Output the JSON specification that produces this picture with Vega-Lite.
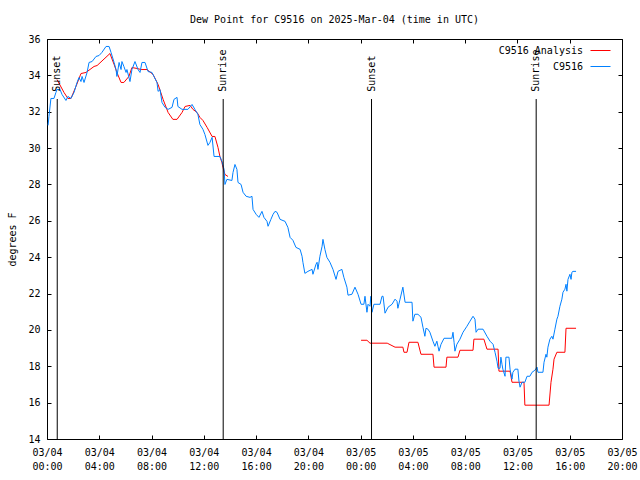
{
"$schema":"https://vega.github.io/schema/vega-lite/v6.json",
"width":575,"height":400,
"autosize":{"type":"none"},
"padding":{"left":47,"top":39,"right":18,"bottom":41},
"background":"white",
"title":{"text":"Dew Point for C9516 on 2025-Mar-04 (time in UTC)","fontSize":10,"fontWeight":"normal","font":"DejaVu Sans Mono","offset":9,"color":"black"},
"config":{"font":"DejaVu Sans Mono","view":{"stroke":"black","strokeWidth":1},
 "axis":{"labelFont":"DejaVu Sans Mono","labelFontSize":10,"labelColor":"black","tickColor":"black","tickSize":-4,"grid":false,"domain":false,"titleFont":"DejaVu Sans Mono","titleFontSize":10,"titleFontWeight":"normal","titleColor":"black"},
 "legend":{"labelFont":"DejaVu Sans Mono","labelFontSize":10,"labelColor":"black"}},
"datasets":{
"obs":[
{"series":"C9516","seg":"b","t":"2025-03-04T00:05","v":31.25},
{"series":"C9516","seg":"b","t":"2025-03-04T00:09","v":31.74},
{"series":"C9516","seg":"b","t":"2025-03-04T00:18","v":32.73},
{"series":"C9516","seg":"b","t":"2025-03-04T00:32","v":32.73},
{"series":"C9516","seg":"b","t":"2025-03-04T00:41","v":33.06},
{"series":"C9516","seg":"b","t":"2025-03-04T00:46","v":33.22},
{"series":"C9516","seg":"b","t":"2025-03-04T01:00","v":33.22},
{"series":"C9516","seg":"b","t":"2025-03-04T01:09","v":32.95},
{"series":"C9516","seg":"b","t":"2025-03-04T01:27","v":32.62},
{"series":"C9516","seg":"b","t":"2025-03-04T01:36","v":32.84},
{"series":"C9516","seg":"b","t":"2025-03-04T01:50","v":32.73},
{"series":"C9516","seg":"b","t":"2025-03-04T02:04","v":33.06},
{"series":"C9516","seg":"b","t":"2025-03-04T02:18","v":33.61},
{"series":"C9516","seg":"b","t":"2025-03-04T02:27","v":33.88},
{"series":"C9516","seg":"b","t":"2025-03-04T02:36","v":33.66},
{"series":"C9516","seg":"b","t":"2025-03-04T02:41","v":33.94},
{"series":"C9516","seg":"b","t":"2025-03-04T02:50","v":33.61},
{"series":"C9516","seg":"b","t":"2025-03-04T03:04","v":34.16},
{"series":"C9516","seg":"b","t":"2025-03-04T03:13","v":34.71},
{"series":"C9516","seg":"b","t":"2025-03-04T03:27","v":34.76},
{"series":"C9516","seg":"b","t":"2025-03-04T03:45","v":35.04},
{"series":"C9516","seg":"b","t":"2025-03-04T03:59","v":35.09},
{"series":"C9516","seg":"b","t":"2025-03-04T04:12","v":35.26},
{"series":"C9516","seg":"b","t":"2025-03-04T04:31","v":35.59},
{"series":"C9516","seg":"b","t":"2025-03-04T04:45","v":35.59},
{"series":"C9516","seg":"b","t":"2025-03-04T04:54","v":35.26},
{"series":"C9516","seg":"b","t":"2025-03-04T05:08","v":34.71},
{"series":"C9516","seg":"b","t":"2025-03-04T05:17","v":34.32},
{"series":"C9516","seg":"b","t":"2025-03-04T05:21","v":33.94},
{"series":"C9516","seg":"b","t":"2025-03-04T05:31","v":34.71},
{"series":"C9516","seg":"b","t":"2025-03-04T05:40","v":34.32},
{"series":"C9516","seg":"b","t":"2025-03-04T05:44","v":34.76},
{"series":"C9516","seg":"b","t":"2025-03-04T05:53","v":34.49},
{"series":"C9516","seg":"b","t":"2025-03-04T06:03","v":34.16},
{"series":"C9516","seg":"b","t":"2025-03-04T06:07","v":34.32},
{"series":"C9516","seg":"b","t":"2025-03-04T06:21","v":33.66},
{"series":"C9516","seg":"b","t":"2025-03-04T06:30","v":34.32},
{"series":"C9516","seg":"b","t":"2025-03-04T06:44","v":34.76},
{"series":"C9516","seg":"b","t":"2025-03-04T06:58","v":34.32},
{"series":"C9516","seg":"b","t":"2025-03-04T07:07","v":34.16},
{"series":"C9516","seg":"b","t":"2025-03-04T07:16","v":34.71},
{"series":"C9516","seg":"b","t":"2025-03-04T07:30","v":34.71},
{"series":"C9516","seg":"b","t":"2025-03-04T07:44","v":34.21},
{"series":"C9516","seg":"b","t":"2025-03-04T08:02","v":34.16},
{"series":"C9516","seg":"b","t":"2025-03-04T08:11","v":33.94},
{"series":"C9516","seg":"b","t":"2025-03-04T08:25","v":33.61},
{"series":"C9516","seg":"b","t":"2025-03-04T08:30","v":33.12},
{"series":"C9516","seg":"b","t":"2025-03-04T08:39","v":33.22},
{"series":"C9516","seg":"b","t":"2025-03-04T08:48","v":32.51},
{"series":"C9516","seg":"b","t":"2025-03-04T09:02","v":32.24},
{"series":"C9516","seg":"b","t":"2025-03-04T09:16","v":32.13},
{"series":"C9516","seg":"b","t":"2025-03-04T09:34","v":32.24},
{"series":"C9516","seg":"b","t":"2025-03-04T09:43","v":32.68},
{"series":"C9516","seg":"b","t":"2025-03-04T09:57","v":32.79},
{"series":"C9516","seg":"b","t":"2025-03-04T10:01","v":32.29},
{"series":"C9516","seg":"b","t":"2025-03-04T10:20","v":32.13},
{"series":"C9516","seg":"b","t":"2025-03-04T10:47","v":32.13},
{"series":"C9516","seg":"b","t":"2025-03-04T11:06","v":32.40},
{"series":"C9516","seg":"b","t":"2025-03-04T11:19","v":32.13},
{"series":"C9516","seg":"b","t":"2025-03-04T11:33","v":31.85},
{"series":"C9516","seg":"b","t":"2025-03-04T11:42","v":31.30},
{"series":"C9516","seg":"b","t":"2025-03-04T11:56","v":31.03},
{"series":"C9516","seg":"b","t":"2025-03-04T12:05","v":30.75},
{"series":"C9516","seg":"b","t":"2025-03-04T12:19","v":30.15},
{"series":"C9516","seg":"b","t":"2025-03-04T12:28","v":30.31},
{"series":"C9516","seg":"b","t":"2025-03-04T12:38","v":30.59},
{"series":"C9516","seg":"b","t":"2025-03-04T12:47","v":29.54},
{"series":"C9516","seg":"b","t":"2025-03-04T13:14","v":29.54},
{"series":"C9516","seg":"b","t":"2025-03-04T13:23","v":29.27},
{"series":"C9516","seg":"b","t":"2025-03-04T13:33","v":28.83},
{"series":"C9516","seg":"b","t":"2025-03-04T13:37","v":28.00},
{"series":"C9516","seg":"b","t":"2025-03-04T13:46","v":28.28},
{"series":"C9516","seg":"b","t":"2025-03-04T14:09","v":28.22},
{"series":"C9516","seg":"b","t":"2025-03-04T14:14","v":28.66},
{"series":"C9516","seg":"b","t":"2025-03-04T14:23","v":29.10},
{"series":"C9516","seg":"b","t":"2025-03-04T14:32","v":28.83},
{"series":"C9516","seg":"b","t":"2025-03-04T14:37","v":28.11},
{"series":"C9516","seg":"b","t":"2025-03-04T14:51","v":28.00},
{"series":"C9516","seg":"b","t":"2025-03-04T15:00","v":27.57},
{"series":"C9516","seg":"b","t":"2025-03-04T15:14","v":27.35},
{"series":"C9516","seg":"b","t":"2025-03-04T15:32","v":27.29},
{"series":"C9516","seg":"b","t":"2025-03-04T15:41","v":27.35},
{"series":"C9516","seg":"b","t":"2025-03-04T15:46","v":26.63},
{"series":"C9516","seg":"b","t":"2025-03-04T16:00","v":26.36},
{"series":"C9516","seg":"b","t":"2025-03-04T16:13","v":26.19},
{"series":"C9516","seg":"b","t":"2025-03-04T16:27","v":26.52},
{"series":"C9516","seg":"b","t":"2025-03-04T16:36","v":26.19},
{"series":"C9516","seg":"b","t":"2025-03-04T16:50","v":25.97},
{"series":"C9516","seg":"b","t":"2025-03-04T16:55","v":25.70},
{"series":"C9516","seg":"b","t":"2025-03-04T17:08","v":26.08},
{"series":"C9516","seg":"b","t":"2025-03-04T17:18","v":26.36},
{"series":"C9516","seg":"b","t":"2025-03-04T17:27","v":26.52},
{"series":"C9516","seg":"b","t":"2025-03-04T17:36","v":26.47},
{"series":"C9516","seg":"b","t":"2025-03-04T17:50","v":26.08},
{"series":"C9516","seg":"b","t":"2025-03-04T18:13","v":25.97},
{"series":"C9516","seg":"b","t":"2025-03-04T18:26","v":25.64},
{"series":"C9516","seg":"b","t":"2025-03-04T18:36","v":25.09},
{"series":"C9516","seg":"b","t":"2025-03-04T18:49","v":24.93},
{"series":"C9516","seg":"b","t":"2025-03-04T19:03","v":24.54},
{"series":"C9516","seg":"b","t":"2025-03-04T19:22","v":24.43},
{"series":"C9516","seg":"b","t":"2025-03-04T19:31","v":24.05},
{"series":"C9516","seg":"b","t":"2025-03-04T19:35","v":23.72},
{"series":"C9516","seg":"b","t":"2025-03-04T19:44","v":23.11},
{"series":"C9516","seg":"b","t":"2025-03-04T19:58","v":23.22},
{"series":"C9516","seg":"b","t":"2025-03-04T20:17","v":23.33},
{"series":"C9516","seg":"b","t":"2025-03-04T20:21","v":23.06},
{"series":"C9516","seg":"b","t":"2025-03-04T20:35","v":23.61},
{"series":"C9516","seg":"b","t":"2025-03-04T20:40","v":23.72},
{"series":"C9516","seg":"b","t":"2025-03-04T20:44","v":23.33},
{"series":"C9516","seg":"b","t":"2025-03-04T20:53","v":24.05},
{"series":"C9516","seg":"b","t":"2025-03-04T21:03","v":24.60},
{"series":"C9516","seg":"b","t":"2025-03-04T21:07","v":24.98},
{"series":"C9516","seg":"b","t":"2025-03-04T21:16","v":24.43},
{"series":"C9516","seg":"b","t":"2025-03-04T21:25","v":23.99},
{"series":"C9516","seg":"b","t":"2025-03-04T21:39","v":23.72},
{"series":"C9516","seg":"b","t":"2025-03-04T21:53","v":23.33},
{"series":"C9516","seg":"b","t":"2025-03-04T22:07","v":22.78},
{"series":"C9516","seg":"b","t":"2025-03-04T22:16","v":23.22},
{"series":"C9516","seg":"b","t":"2025-03-04T22:34","v":23.33},
{"series":"C9516","seg":"b","t":"2025-03-04T22:43","v":22.89},
{"series":"C9516","seg":"b","t":"2025-03-04T22:57","v":22.35},
{"series":"C9516","seg":"b","t":"2025-03-04T23:02","v":21.91},
{"series":"C9516","seg":"b","t":"2025-03-04T23:20","v":21.96},
{"series":"C9516","seg":"b","t":"2025-03-04T23:34","v":22.35},
{"series":"C9516","seg":"b","t":"2025-03-04T23:48","v":21.96},
{"series":"C9516","seg":"b","t":"2025-03-05T00:02","v":21.41},
{"series":"C9516","seg":"b","t":"2025-03-05T00:15","v":21.41},
{"series":"C9516","seg":"b","t":"2025-03-05T00:20","v":21.85},
{"series":"C9516","seg":"b","t":"2025-03-05T00:29","v":20.97},
{"series":"C9516","seg":"b","t":"2025-03-05T00:34","v":21.41},
{"series":"C9516","seg":"b","t":"2025-03-05T00:43","v":21.30},
{"series":"C9516","seg":"b","t":"2025-03-05T00:47","v":21.85},
{"series":"C9516","seg":"b","t":"2025-03-05T00:52","v":20.97},
{"series":"C9516","seg":"b","t":"2025-03-05T01:01","v":21.41},
{"series":"C9516","seg":"b","t":"2025-03-05T01:29","v":21.41},
{"series":"C9516","seg":"b","t":"2025-03-05T01:38","v":21.85},
{"series":"C9516","seg":"b","t":"2025-03-05T01:43","v":21.85},
{"series":"C9516","seg":"b","t":"2025-03-05T01:52","v":20.92},
{"series":"C9516","seg":"b","t":"2025-03-05T02:06","v":21.25},
{"series":"C9516","seg":"b","t":"2025-03-05T02:24","v":21.41},
{"series":"C9516","seg":"b","t":"2025-03-05T02:38","v":21.69},
{"series":"C9516","seg":"b","t":"2025-03-05T02:47","v":21.58},
{"series":"C9516","seg":"b","t":"2025-03-05T02:51","v":21.19},
{"series":"C9516","seg":"b","t":"2025-03-05T03:01","v":21.69},
{"series":"C9516","seg":"b","t":"2025-03-05T03:14","v":22.35},
{"series":"C9516","seg":"b","t":"2025-03-05T03:24","v":21.52},
{"series":"C9516","seg":"b","t":"2025-03-05T03:56","v":21.52},
{"series":"C9516","seg":"b","t":"2025-03-05T04:00","v":20.48},
{"series":"C9516","seg":"b","t":"2025-03-05T04:09","v":20.86},
{"series":"C9516","seg":"b","t":"2025-03-05T04:23","v":20.86},
{"series":"C9516","seg":"b","t":"2025-03-05T04:37","v":20.70},
{"series":"C9516","seg":"b","t":"2025-03-05T04:46","v":20.15},
{"series":"C9516","seg":"b","t":"2025-03-05T04:55","v":19.65},
{"series":"C9516","seg":"b","t":"2025-03-05T05:00","v":20.09},
{"series":"C9516","seg":"b","t":"2025-03-05T05:09","v":20.04},
{"series":"C9516","seg":"b","t":"2025-03-05T05:18","v":19.87},
{"series":"C9516","seg":"b","t":"2025-03-05T05:32","v":19.38},
{"series":"C9516","seg":"b","t":"2025-03-05T05:41","v":19.10},
{"series":"C9516","seg":"b","t":"2025-03-05T05:50","v":19.38},
{"series":"C9516","seg":"b","t":"2025-03-05T05:55","v":19.10},
{"series":"C9516","seg":"b","t":"2025-03-05T06:00","v":18.83},
{"series":"C9516","seg":"b","t":"2025-03-05T06:09","v":19.21},
{"series":"C9516","seg":"b","t":"2025-03-05T06:23","v":19.54},
{"series":"C9516","seg":"b","t":"2025-03-05T06:59","v":19.54},
{"series":"C9516","seg":"b","t":"2025-03-05T07:04","v":19.87},
{"series":"C9516","seg":"b","t":"2025-03-05T07:09","v":19.32},
{"series":"C9516","seg":"b","t":"2025-03-05T07:13","v":18.83},
{"series":"C9516","seg":"b","t":"2025-03-05T07:22","v":19.21},
{"series":"C9516","seg":"b","t":"2025-03-05T07:36","v":19.49},
{"series":"C9516","seg":"b","t":"2025-03-05T07:50","v":19.87},
{"series":"C9516","seg":"b","t":"2025-03-05T08:08","v":20.20},
{"series":"C9516","seg":"b","t":"2025-03-05T08:22","v":20.48},
{"series":"C9516","seg":"b","t":"2025-03-05T08:36","v":20.75},
{"series":"C9516","seg":"b","t":"2025-03-05T08:45","v":20.59},
{"series":"C9516","seg":"b","t":"2025-03-05T08:50","v":19.87},
{"series":"C9516","seg":"b","t":"2025-03-05T08:59","v":20.04},
{"series":"C9516","seg":"b","t":"2025-03-05T09:22","v":20.04},
{"series":"C9516","seg":"b","t":"2025-03-05T09:40","v":19.65},
{"series":"C9516","seg":"b","t":"2025-03-05T09:54","v":19.38},
{"series":"C9516","seg":"b","t":"2025-03-05T10:08","v":19.21},
{"series":"C9516","seg":"b","t":"2025-03-05T10:17","v":18.77},
{"series":"C9516","seg":"b","t":"2025-03-05T10:26","v":18.28},
{"series":"C9516","seg":"b","t":"2025-03-05T10:31","v":17.89},
{"series":"C9516","seg":"b","t":"2025-03-05T10:40","v":17.89},
{"series":"C9516","seg":"b","t":"2025-03-05T10:44","v":18.50},
{"series":"C9516","seg":"b","t":"2025-03-05T10:49","v":18.11},
{"series":"C9516","seg":"b","t":"2025-03-05T10:53","v":17.84},
{"series":"C9516","seg":"b","t":"2025-03-05T11:03","v":17.45},
{"series":"C9516","seg":"b","t":"2025-03-05T11:07","v":18.50},
{"series":"C9516","seg":"b","t":"2025-03-05T11:21","v":18.50},
{"series":"C9516","seg":"b","t":"2025-03-05T11:26","v":17.84},
{"series":"C9516","seg":"b","t":"2025-03-05T11:35","v":17.29},
{"series":"C9516","seg":"b","t":"2025-03-05T11:39","v":17.67},
{"series":"C9516","seg":"b","t":"2025-03-05T11:49","v":17.84},
{"series":"C9516","seg":"b","t":"2025-03-05T12:02","v":17.84},
{"series":"C9516","seg":"b","t":"2025-03-05T12:07","v":17.18},
{"series":"C9516","seg":"b","t":"2025-03-05T12:12","v":16.85},
{"series":"C9516","seg":"b","t":"2025-03-05T12:21","v":17.12},
{"series":"C9516","seg":"b","t":"2025-03-05T12:34","v":17.12},
{"series":"C9516","seg":"b","t":"2025-03-05T12:44","v":17.45},
{"series":"C9516","seg":"b","t":"2025-03-05T12:57","v":17.45},
{"series":"C9516","seg":"b","t":"2025-03-05T13:07","v":17.67},
{"series":"C9516","seg":"b","t":"2025-03-05T13:20","v":17.78},
{"series":"C9516","seg":"b","t":"2025-03-05T13:30","v":17.95},
{"series":"C9516","seg":"b","t":"2025-03-05T13:34","v":17.67},
{"series":"C9516","seg":"b","t":"2025-03-05T13:57","v":17.67},
{"series":"C9516","seg":"b","t":"2025-03-05T14:02","v":18.22},
{"series":"C9516","seg":"b","t":"2025-03-05T14:11","v":18.66},
{"series":"C9516","seg":"b","t":"2025-03-05T14:15","v":18.50},
{"series":"C9516","seg":"b","t":"2025-03-05T14:20","v":19.05},
{"series":"C9516","seg":"b","t":"2025-03-05T14:29","v":19.49},
{"series":"C9516","seg":"b","t":"2025-03-05T14:38","v":19.65},
{"series":"C9516","seg":"b","t":"2025-03-05T14:43","v":19.49},
{"series":"C9516","seg":"b","t":"2025-03-05T14:52","v":20.04},
{"series":"C9516","seg":"b","t":"2025-03-05T15:01","v":20.59},
{"series":"C9516","seg":"b","t":"2025-03-05T15:06","v":20.75},
{"series":"C9516","seg":"b","t":"2025-03-05T15:15","v":21.30},
{"series":"C9516","seg":"b","t":"2025-03-05T15:24","v":21.69},
{"series":"C9516","seg":"b","t":"2025-03-05T15:29","v":22.07},
{"series":"C9516","seg":"b","t":"2025-03-05T15:38","v":22.24},
{"series":"C9516","seg":"b","t":"2025-03-05T15:43","v":22.51},
{"series":"C9516","seg":"b","t":"2025-03-05T15:47","v":22.13},
{"series":"C9516","seg":"b","t":"2025-03-05T15:52","v":22.78},
{"series":"C9516","seg":"b","t":"2025-03-05T16:01","v":23.06},
{"series":"C9516","seg":"b","t":"2025-03-05T16:06","v":22.78},
{"series":"C9516","seg":"b","t":"2025-03-05T16:10","v":23.17},
{"series":"C9516","seg":"b","t":"2025-03-05T16:15","v":23.22},
{"series":"C9516","seg":"b","t":"2025-03-05T16:29","v":23.22},
{"series":"C9516 Analysis","seg":"r1","t":"2025-03-04T00:46","v":33.77},
{"series":"C9516 Analysis","seg":"r1","t":"2025-03-04T01:18","v":33.06},
{"series":"C9516 Analysis","seg":"r1","t":"2025-03-04T01:36","v":32.73},
{"series":"C9516 Analysis","seg":"r1","t":"2025-03-04T01:50","v":32.73},
{"series":"C9516 Analysis","seg":"r1","t":"2025-03-04T02:13","v":33.39},
{"series":"C9516 Analysis","seg":"r1","t":"2025-03-04T02:36","v":34.10},
{"series":"C9516 Analysis","seg":"r1","t":"2025-03-04T02:59","v":34.16},
{"series":"C9516 Analysis","seg":"r1","t":"2025-03-04T03:36","v":34.49},
{"series":"C9516 Analysis","seg":"r1","t":"2025-03-04T03:50","v":34.54},
{"series":"C9516 Analysis","seg":"r1","t":"2025-03-04T04:49","v":35.20},
{"series":"C9516 Analysis","seg":"r1","t":"2025-03-04T05:08","v":34.60},
{"series":"C9516 Analysis","seg":"r1","t":"2025-03-04T05:21","v":34.16},
{"series":"C9516 Analysis","seg":"r1","t":"2025-03-04T05:40","v":33.61},
{"series":"C9516 Analysis","seg":"r1","t":"2025-03-04T05:53","v":33.61},
{"series":"C9516 Analysis","seg":"r1","t":"2025-03-04T06:16","v":33.94},
{"series":"C9516 Analysis","seg":"r1","t":"2025-03-04T06:30","v":34.43},
{"series":"C9516 Analysis","seg":"r1","t":"2025-03-04T06:53","v":34.38},
{"series":"C9516 Analysis","seg":"r1","t":"2025-03-04T07:12","v":34.32},
{"series":"C9516 Analysis","seg":"r1","t":"2025-03-04T07:39","v":34.32},
{"series":"C9516 Analysis","seg":"r1","t":"2025-03-04T08:07","v":34.05},
{"series":"C9516 Analysis","seg":"r1","t":"2025-03-04T08:30","v":33.50},
{"series":"C9516 Analysis","seg":"r1","t":"2025-03-04T08:53","v":32.68},
{"series":"C9516 Analysis","seg":"r1","t":"2025-03-04T09:16","v":31.96},
{"series":"C9516 Analysis","seg":"r1","t":"2025-03-04T09:38","v":31.58},
{"series":"C9516 Analysis","seg":"r1","t":"2025-03-04T09:57","v":31.58},
{"series":"C9516 Analysis","seg":"r1","t":"2025-03-04T10:20","v":31.96},
{"series":"C9516 Analysis","seg":"r1","t":"2025-03-04T10:34","v":32.29},
{"series":"C9516 Analysis","seg":"r1","t":"2025-03-04T10:57","v":32.35},
{"series":"C9516 Analysis","seg":"r1","t":"2025-03-04T11:10","v":32.13},
{"series":"C9516 Analysis","seg":"r1","t":"2025-03-04T11:29","v":31.96},
{"series":"C9516 Analysis","seg":"r1","t":"2025-03-04T11:42","v":31.69},
{"series":"C9516 Analysis","seg":"r1","t":"2025-03-04T11:56","v":31.52},
{"series":"C9516 Analysis","seg":"r1","t":"2025-03-04T12:15","v":31.14},
{"series":"C9516 Analysis","seg":"r1","t":"2025-03-04T12:38","v":30.64},
{"series":"C9516 Analysis","seg":"r1","t":"2025-03-04T12:51","v":30.64},
{"series":"C9516 Analysis","seg":"r1","t":"2025-03-04T13:05","v":30.04},
{"series":"C9516 Analysis","seg":"r1","t":"2025-03-04T13:14","v":29.54},
{"series":"C9516 Analysis","seg":"r1","t":"2025-03-04T13:23","v":29.21},
{"series":"C9516 Analysis","seg":"r1","t":"2025-03-04T13:28","v":28.94},
{"series":"C9516 Analysis","seg":"r1","t":"2025-03-04T13:37","v":28.55},
{"series":"C9516 Analysis","seg":"r1","t":"2025-03-04T13:51","v":28.44},
{"series":"C9516 Analysis","seg":"r2","t":"2025-03-05T00:02","v":19.43},
{"series":"C9516 Analysis","seg":"r2","t":"2025-03-05T00:29","v":19.43},
{"series":"C9516 Analysis","seg":"r2","t":"2025-03-05T00:43","v":19.27},
{"series":"C9516 Analysis","seg":"r2","t":"2025-03-05T02:02","v":19.27},
{"series":"C9516 Analysis","seg":"r2","t":"2025-03-05T02:38","v":19.05},
{"series":"C9516 Analysis","seg":"r2","t":"2025-03-05T03:14","v":19.05},
{"series":"C9516 Analysis","seg":"r2","t":"2025-03-05T03:19","v":18.77},
{"series":"C9516 Analysis","seg":"r2","t":"2025-03-05T03:33","v":18.77},
{"series":"C9516 Analysis","seg":"r2","t":"2025-03-05T03:42","v":19.32},
{"series":"C9516 Analysis","seg":"r2","t":"2025-03-05T04:23","v":19.32},
{"series":"C9516 Analysis","seg":"r2","t":"2025-03-05T04:37","v":18.66},
{"series":"C9516 Analysis","seg":"r2","t":"2025-03-05T05:32","v":18.66},
{"series":"C9516 Analysis","seg":"r2","t":"2025-03-05T05:37","v":17.95},
{"series":"C9516 Analysis","seg":"r2","t":"2025-03-05T06:32","v":17.95},
{"series":"C9516 Analysis","seg":"r2","t":"2025-03-05T06:36","v":18.50},
{"series":"C9516 Analysis","seg":"r2","t":"2025-03-05T07:27","v":18.50},
{"series":"C9516 Analysis","seg":"r2","t":"2025-03-05T07:36","v":18.88},
{"series":"C9516 Analysis","seg":"r2","t":"2025-03-05T08:36","v":18.88},
{"series":"C9516 Analysis","seg":"r2","t":"2025-03-05T08:40","v":19.49},
{"series":"C9516 Analysis","seg":"r2","t":"2025-03-05T09:26","v":19.49},
{"series":"C9516 Analysis","seg":"r2","t":"2025-03-05T09:40","v":18.94},
{"series":"C9516 Analysis","seg":"r2","t":"2025-03-05T10:31","v":18.94},
{"series":"C9516 Analysis","seg":"r2","t":"2025-03-05T10:35","v":17.73},
{"series":"C9516 Analysis","seg":"r2","t":"2025-03-05T11:26","v":17.73},
{"series":"C9516 Analysis","seg":"r2","t":"2025-03-05T11:35","v":17.12},
{"series":"C9516 Analysis","seg":"r2","t":"2025-03-05T12:30","v":17.12},
{"series":"C9516 Analysis","seg":"r2","t":"2025-03-05T12:34","v":15.86},
{"series":"C9516 Analysis","seg":"r2","t":"2025-03-05T14:25","v":15.86},
{"series":"C9516 Analysis","seg":"r2","t":"2025-03-05T14:34","v":17.12},
{"series":"C9516 Analysis","seg":"r2","t":"2025-03-05T14:43","v":17.84},
{"series":"C9516 Analysis","seg":"r2","t":"2025-03-05T14:48","v":18.39},
{"series":"C9516 Analysis","seg":"r2","t":"2025-03-05T15:01","v":18.77},
{"series":"C9516 Analysis","seg":"r2","t":"2025-03-05T15:38","v":18.77},
{"series":"C9516 Analysis","seg":"r2","t":"2025-03-05T15:43","v":20.09},
{"series":"C9516 Analysis","seg":"r2","t":"2025-03-05T16:29","v":20.09}
],
"events":[
{"t":"2025-03-04T00:47","label":"Sunset"},
{"t":"2025-03-04T13:29","label":"Sunrise"},
{"t":"2025-03-05T00:50","label":"Sunset"},
{"t":"2025-03-05T13:26","label":"Sunrise"}
]},
"layer":[
{"data":{"name":"obs"},"transform":[{"filter":"datum.series === 'C9516 Analysis'"}],
 "mark":{"type":"line","strokeWidth":1},
 "encoding":{
  "x":{"field":"t","type":"temporal","scale":{"domain":[{"year":2025,"month":3,"date":4,"hours":0},{"year":2025,"month":3,"date":5,"hours":20}]},
   "axis":{"orient":"bottom","title":null,"values":[{"year":2025,"month":3,"date":4,"hours":0},{"year":2025,"month":3,"date":4,"hours":4},{"year":2025,"month":3,"date":4,"hours":8},{"year":2025,"month":3,"date":4,"hours":12},{"year":2025,"month":3,"date":4,"hours":16},{"year":2025,"month":3,"date":4,"hours":20},{"year":2025,"month":3,"date":5,"hours":0},{"year":2025,"month":3,"date":5,"hours":4},{"year":2025,"month":3,"date":5,"hours":8},{"year":2025,"month":3,"date":5,"hours":12},{"year":2025,"month":3,"date":5,"hours":16},{"year":2025,"month":3,"date":5,"hours":20}],
    "labelExpr":"[timeFormat(datum.value,'%m/%d'), timeFormat(datum.value,'%H:%M')]","labelPadding":12,"labelFlush":false,"labelOverlap":false,"labelBound":false,"labelLineHeight":14,"labelBaseline":"top"}},
  "y":{"field":"v","type":"quantitative","scale":{"domain":[14,36],"nice":false,"zero":false},
   "axis":{"orient":"left","title":"degrees F","values":[14,16,18,20,22,24,26,28,30,32,34,36],"labelPadding":11,"titlePadding":10,"labelOverlap":false,"labelFlush":false}},
  "color":{"field":"series","type":"nominal","scale":{"domain":["C9516 Analysis","C9516"],"range":["#ff0000","#0080ff"]},
   "legend":{"orient":"none","legendX":543,"legendY":1,"title":null,"symbolType":"stroke","symbolSize":400,"symbolStrokeWidth":1,"labelAlign":"right","labelOffset":-28,"rowPadding":0,"padding":0}},
  "detail":{"field":"seg"}}},
{"data":{"name":"obs"},"transform":[{"filter":"datum.series === 'C9516'"}],
 "mark":{"type":"line","strokeWidth":1},
 "encoding":{
  "x":{"field":"t","type":"temporal",
   "axis":{"orient":"top","title":null,"labels":false,"values":[{"year":2025,"month":3,"date":4,"hours":0},{"year":2025,"month":3,"date":4,"hours":4},{"year":2025,"month":3,"date":4,"hours":8},{"year":2025,"month":3,"date":4,"hours":12},{"year":2025,"month":3,"date":4,"hours":16},{"year":2025,"month":3,"date":4,"hours":20},{"year":2025,"month":3,"date":5,"hours":0},{"year":2025,"month":3,"date":5,"hours":4},{"year":2025,"month":3,"date":5,"hours":8},{"year":2025,"month":3,"date":5,"hours":12},{"year":2025,"month":3,"date":5,"hours":16},{"year":2025,"month":3,"date":5,"hours":20}]}},
  "y":{"field":"v","type":"quantitative",
   "axis":{"orient":"right","title":null,"labels":false,"values":[14,16,18,20,22,24,26,28,30,32,34,36]}},
  "color":{"field":"series","type":"nominal"},
  "detail":{"field":"seg"}}},
{"data":{"name":"events"},
 "mark":{"type":"rule","color":"black","strokeWidth":1},
 "encoding":{"x":{"field":"t","type":"temporal","axis":null},"y":{"datum":32.7,"type":"quantitative","axis":null},"y2":{"datum":14}}},
{"data":{"name":"events"},
 "mark":{"type":"text","angle":270,"align":"left","baseline":"middle","fontSize":10,"color":"black","font":"DejaVu Sans Mono"},
 "encoding":{"x":{"field":"t","type":"temporal","axis":null},"y":{"datum":33.1,"type":"quantitative","axis":null},"text":{"field":"label"}}}
],
"resolve":{"axis":{"x":"independent","y":"independent"}}
}
